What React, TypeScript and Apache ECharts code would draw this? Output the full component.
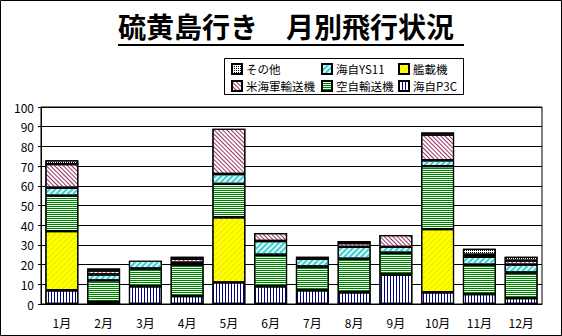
import React, { useEffect, useRef } from 'react';
import * as echarts from 'echarts';

const months = ['1月', '2月', '3月', '4月', '5月', '6月', '7月', '8月', '9月', '10月', '11月', '12月'];
const yTicks = { min: 0, max: 100, interval: 10 };
// stacked from bottom to top
const p3c = [7, 1, 9, 4, 11, 9, 7, 6, 15, 6, 5, 3];
const kansaiki = [30, '-', '-', '-', 33, '-', '-', '-', '-', 32, '-', '-'];
const kuujiYuso = [18, 11, 9, 16, 17, 16, 12, 17, 11, 32, 15, 13];
const kaijiYS11 = [4, 3, 4, 1, 5, 7, 4, 6, 3, 3, 4, 4];
const beiKaigun = [12, 2, '-', 2, 23, 4, '-', 2, 6, 13, 1, 2];
const sonota = [2, 1, '-', 1, '-', '-', 1, 1, '-', 1, 3, 2];

const FONT = '"Noto Sans CJK JP", "Noto Sans", sans-serif';

export default function App() {
  const ref = useRef<HTMLDivElement>(null);
  useEffect(() => {
    document.body.style.margin = '0';
    const chart = echarts.init(ref.current!, null, { renderer: 'svg' });
    const mk = (name: string, data: any[], color: string, decal: any) => ({
      type: 'bar',
      name,
      stack: 'total',
      data,
      barCategoryGap: '21%',
      itemStyle: { color, borderColor: '#000', borderWidth: 1.2, decal },
    });
    const legendBase = {
      orient: 'vertical',
      icon: 'rect',
      itemWidth: 10,
      itemHeight: 10,
      itemGap: 5,
      padding: 0,
      textStyle: { fontSize: 11.5, fontFamily: FONT, color: '#000', padding: [0, 0, 0, -1] },
    };
    chart.setOption({
      animation: false,
      backgroundColor: '#fff',
      grid: { left: 41, top: 107, width: 501, height: 197, show: true, borderColor: '#000', borderWidth: 1 },
      legend: [
        { ...legendBase, left: 231, top: 63, data: ['その他', '米海軍輸送機'] },
        { ...legendBase, left: 321, top: 63, data: ['海自YS11', '空自輸送機'] },
        { ...legendBase, left: 398, top: 63, data: ['艦載機', '海自P3C'] },
      ],
      xAxis: {
        type: 'category',
        data: months,
        axisLine: { lineStyle: { color: '#000' } },
        axisTick: { show: false },
        axisLabel: { fontSize: 12, fontFamily: FONT, color: '#000', margin: 12 },
      },
      yAxis: {
        type: 'value',
        min: yTicks.min,
        max: yTicks.max,
        interval: yTicks.interval,
        axisLine: { show: true, lineStyle: { color: '#000' } },
        axisTick: { show: true, length: 3, lineStyle: { color: '#000' } },
        splitLine: { lineStyle: { color: '#000', width: 1 } },
        axisLabel: { fontSize: 12, fontFamily: FONT, color: '#000', margin: 7 },
      },
      graphic: [
        { type: 'rect', shape: { x: 0.5, y: 0.5, width: 561, height: 335 }, style: { fill: 'none', stroke: '#000', lineWidth: 1 } },
        { type: 'rect', shape: { x: 224.5, y: 58.5, width: 239, height: 36 }, style: { fill: '#fff', stroke: '#000', lineWidth: 1 } },
        { type: 'text', x: 118, y: 12, style: { text: '硫黄島行き　月別飛行状況', font: `bold 28px ${FONT}`, fill: '#000' } },
        { type: 'line', shape: { x1: 118, y1: 45, x2: 464, y2: 45 }, style: { stroke: '#000', lineWidth: 2 } },
      ],
      series: [
        mk('海自P3C', p3c, '#ffffff', { symbol: 'rect', color: '#000080', dashArrayX: [1, 2], dashArrayY: [1, 0] }),
        mk('艦載機', kansaiki, '#ffff00', { symbol: 'rect', color: '#e8e800', dashArrayX: [1, 0], dashArrayY: [1, 3], rotation: -Math.PI / 4 }),
        mk('空自輸送機', kuujiYuso, '#f0fff0', { symbol: 'rect', color: '#008000', dashArrayX: [1, 0], dashArrayY: [1, 1] }),
        mk('海自YS11', kaijiYS11, '#dcffff', { symbol: 'rect', color: '#44cccc', dashArrayX: [1, 0], dashArrayY: [2, 1.5], rotation: -Math.PI / 4 }),
        mk('米海軍輸送機', beiKaigun, '#ffffff', { symbol: 'rect', color: '#993366', dashArrayX: [1, 0], dashArrayY: [1, 2], rotation: Math.PI / 4 }),
        mk('その他', sonota, '#ffffff', { symbol: 'rect', color: '#000000', dashArrayX: [1, 1], dashArrayY: [1, 1] }),
      ],
    });
    return () => chart.dispose();
  }, []);
  return <div ref={ref} style={{ width: 562, height: 336 }} />;
}
